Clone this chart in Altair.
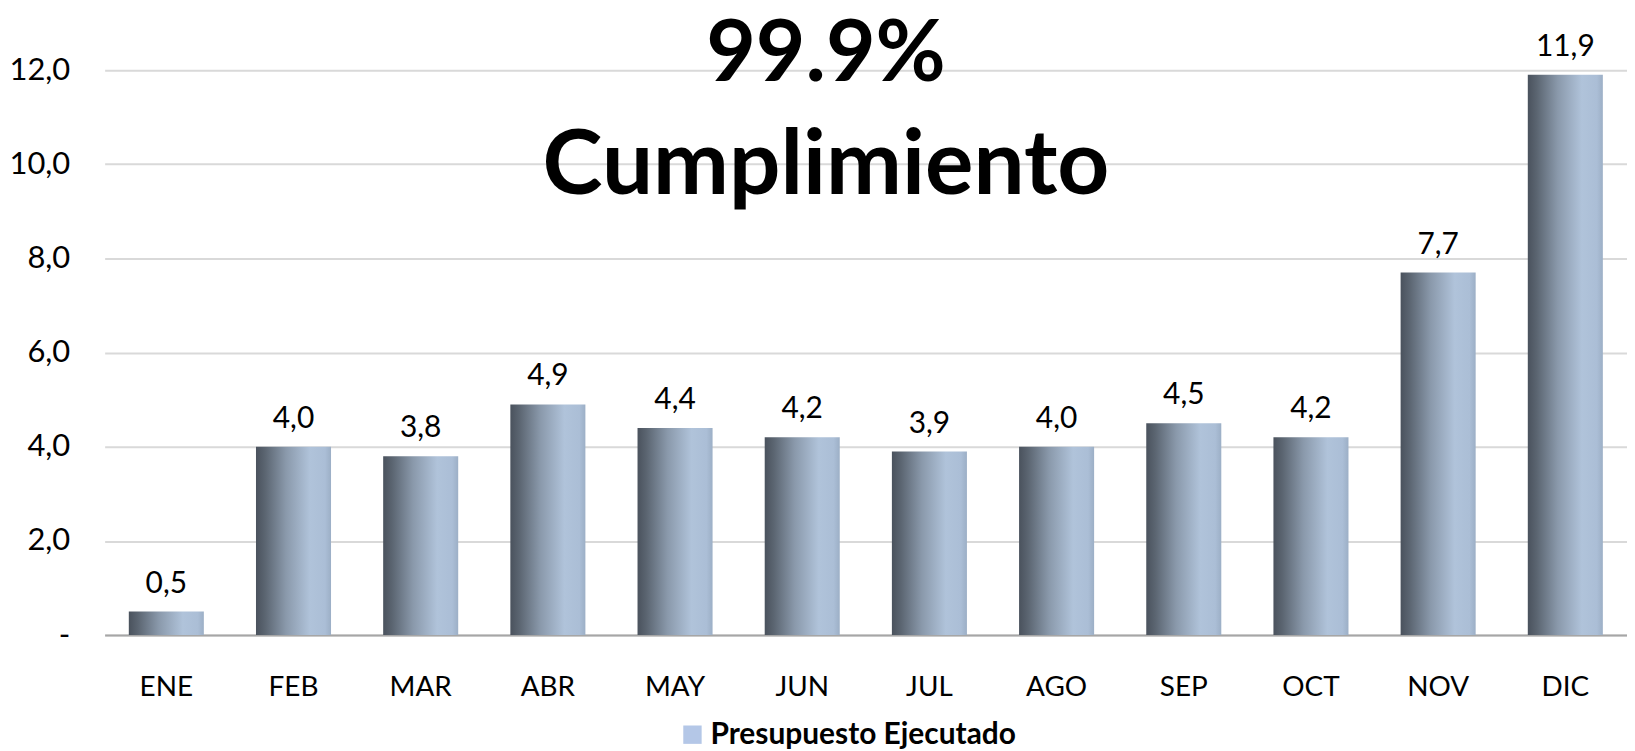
import altair as alt
import pandas as pd

months = ["ENE", "FEB", "MAR", "ABR", "MAY", "JUN", "JUL", "AGO", "SEP", "OCT", "NOV", "DIC"]
values = [0.5, 4.0, 3.8, 4.9, 4.4, 4.2, 3.9, 4.0, 4.5, 4.2, 7.7, 11.9]
series_name = "Presupuesto Ejecutado"
title_lines = ["99.9%", "Cumplimiento"]
y_ticks = [0, 2, 4, 6, 8, 10, 12]

FONT = "Lato"

df = pd.DataFrame({"mes": months, "valor": values, "serie": [series_name] * len(months)})

gradient = alt.Gradient(
    gradient="linear",
    x1=0, x2=1, y1=0, y2=0,
    stops=[
        alt.GradientStop(offset=0.0, color="#4a525d"),
        alt.GradientStop(offset=0.12, color="#5b6571"),
        alt.GradientStop(offset=0.4, color="#8a99ab"),
        alt.GradientStop(offset=0.72, color="#b0c3da"),
        alt.GradientStop(offset=0.92, color="#abbed6"),
        alt.GradientStop(offset=1.0, color="#9cafc6"),
    ],
)

x_enc = alt.X(
    "mes:N",
    sort=months,
    scale=alt.Scale(paddingInner=0.41, paddingOuter=0.19),
    axis=alt.Axis(
        title=None, labelAngle=0, ticks=False, domain=True,
        domainColor="#a6a6a6", domainWidth=2, labelPadding=39,
        labelFontSize=28, labelFont=FONT, labelColor="#000000",
    ),
)
y_enc = alt.Y(
    "valor:Q",
    scale=alt.Scale(domain=[0, 12], nice=False, zero=True),
    axis=alt.Axis(
        title=None, values=y_ticks, domain=False, ticks=False,
        grid=True, gridColor="#d9d9d9", gridWidth=2,
        labelPadding=35, labelFontSize=31, labelFont=FONT, labelColor="#000000",
        labelExpr="datum.value == 0 ? '-\u00a0\u00a0' : replace(format(datum.value, '.1f'), '.', ',')",
    ),
)

base = alt.Chart(df)

bars = base.mark_bar(fill=gradient).encode(x=x_enc, y=y_enc)

labels = base.transform_calculate(
    etiqueta="replace(format(datum.valor, '.1f'), '.', ',')"
).mark_text(
    baseline="alphabetic", dy=-19, fontSize=30, font=FONT, color="#000000"
).encode(x=alt.X("mes:N", sort=months), y="valor:Q", text="etiqueta:N")

legend_layer = base.mark_square(opacity=0).encode(
    x=alt.X("mes:N", sort=months),
    y="valor:Q",
    color=alt.Color(
        "serie:N",
        scale=alt.Scale(range=["#b4c7e7"]),
        legend=alt.Legend(
            title=None, orient="none", legendX=575, legendY=652,
            symbolType="square", symbolSize=340, symbolOpacity=1,
            symbolStrokeWidth=0, labelFontSize=30, labelFont=FONT,
            labelFontWeight="bold", labelColor="#000000", labelOffset=3,
            labelLimit=0,
        ),
    ),
)

title1 = alt.Chart(pd.DataFrame({"t": [title_lines[0]]})).mark_text(
    fontSize=86, fontWeight="bold", font=FONT, color="#000000",
    baseline="alphabetic", align="center",
).encode(text="t:N", x=alt.value(724), y=alt.value(11))
title2 = alt.Chart(pd.DataFrame({"t": [title_lines[1]]})).mark_text(
    fontSize=91, fontWeight="bold", font=FONT, color="#000000",
    baseline="alphabetic", align="center",
).encode(text="t:N", x=alt.value(724), y=alt.value(124))

chart = alt.layer(bars, labels, legend_layer, title1, title2).properties(
    width=1528, height=567,
    autosize=alt.AutoSizeParams(type="none"),
    padding={"left": 97, "top": 61, "right": 0, "bottom": 115},
    background="#ffffff",
).configure_view(stroke=None)

chart.save("out.html", embed_options={"renderer": "svg", "actions": False})
